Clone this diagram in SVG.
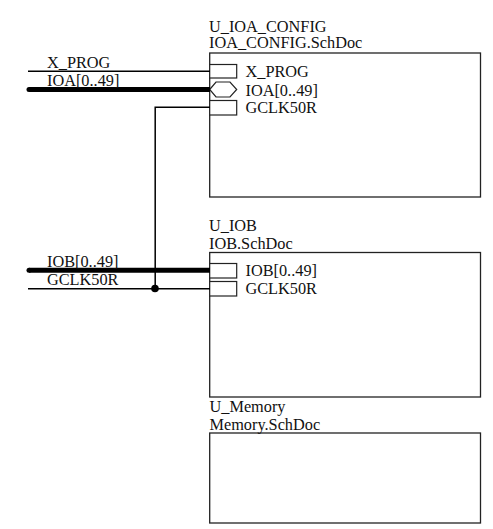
<svg xmlns="http://www.w3.org/2000/svg" width="493" height="529" viewBox="0 0 493 529">
<style>
text{font-family:"Liberation Serif","Times New Roman",serif;font-size:16.3px;fill:#111}
.box{fill:#fff;stroke:#222;stroke-width:1.3}
.port{fill:#fff;stroke:#222;stroke-width:1.2}
.wire{fill:none;stroke:#000;stroke-width:1.5}
.bus{fill:none;stroke:#000;stroke-width:5}
</style>
<rect width="493" height="529" fill="#fff"/>
<g id="U_IOA_CONFIG">
<rect class="box" x="209.700" y="53" width="270.800" height="144"/>
<text x="209" y="32">U_IOA_CONFIG</text>
<text x="209" y="48">IOA_CONFIG.SchDoc</text>
<rect class="port" x="209.700" y="64.500" width="27" height="13.500"/>
<polygon class="port" points="209.700,89.500 216,82 230,82 236.700,89.500 230,97 216,97"/>
<rect class="port" x="209.700" y="100.500" width="27" height="14.500"/>
<text x="245.500" y="77">X_PROG</text>
<text x="245.500" y="95.500">IOA[0..49]</text>
<text x="245.500" y="112.500">GCLK50R</text>
</g>
<g id="U_IOB">
<rect class="box" x="209.700" y="252.500" width="270.800" height="144.500"/>
<text x="209" y="231">U_IOB</text>
<text x="209" y="249">IOB.SchDoc</text>
<rect class="port" x="209.700" y="263.500" width="27" height="14.500"/>
<rect class="port" x="209.700" y="281.500" width="27" height="14.500"/>
<text x="245.500" y="276">IOB[0..49]</text>
<text x="245.500" y="294">GCLK50R</text>
</g>
<g id="U_Memory">
<rect class="box" x="209.700" y="433" width="270.800" height="90"/>
<text x="209.500" y="412">U_Memory</text>
<text x="209.500" y="430">Memory.SchDoc</text>
</g>
<g id="connectors">
<path class="wire" d="M28 71.200H210"/>
<path class="bus" d="M29 89.500H210"/>
<circle cx="29" cy="89.500" r="2.500" fill="#000"/>
<path class="wire" d="M210 107.200H155.200V288.700"/>
<path class="bus" d="M29 270.200H210"/>
<circle cx="29" cy="270.200" r="2.500" fill="#000"/>
<path class="wire" d="M28 288.700H210"/>
<circle cx="155" cy="288.500" r="3.800" fill="#000"/>
</g>
<g id="labels">
<text x="47" y="68">X_PROG</text>
<text x="47" y="86">IOA[0..49]</text>
<text x="47" y="267">IOB[0..49]</text>
<text x="47" y="285">GCLK50R</text>
</g>
</svg>
